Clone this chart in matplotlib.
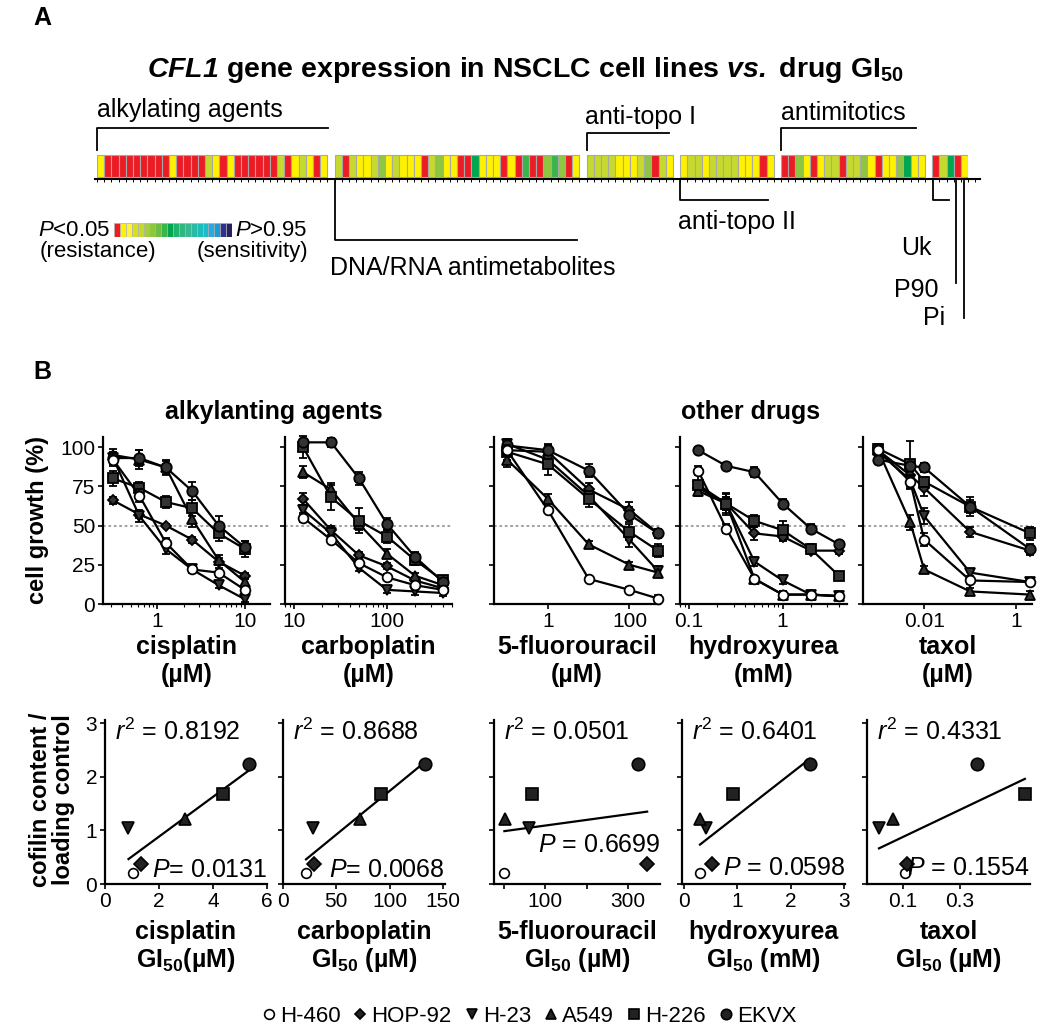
import matplotlib.pyplot as plt
import numpy as np
from matplotlib.lines import Line2D
from matplotlib.ticker import LogLocator, NullFormatter

plt.rcParams['font.family'] = ['Liberation Sans', 'DejaVu Sans']
plt.rcParams['mathtext.fontset'] = 'custom'
plt.rcParams['mathtext.rm'] = 'Liberation Sans'
plt.rcParams['mathtext.it'] = 'Liberation Sans:italic'
plt.rcParams['mathtext.bf'] = 'Liberation Sans:bold'
plt.rcParams['mathtext.bfit'] = 'Liberation Sans:bold:italic'

# ---------------- panel A data (heat strip, one letter per drug) ----------------
cell_colors = {'r': '#ED1C24', 'y': '#FFF200', 'l': '#C6DA2E', 'm': '#8DC63F',
               'g': '#39B54A', 'd': '#00A651'}
alkylating = 'yrrrrrrrrryrrrrlyryrrrrrrlrylyry'
antimetabolites = 'lrlyylmylyyyrlmyyrrdyyyryrgrrmgmry'
anti_topo1 = 'llllyyylmrly'
anti_topo2 = 'yllyllllyyyry'
antimitotics = 'rrmyryllrllmyryymdyy'
other_drugs = 'rldry'
scale_colors = ['#ED1C24', '#FFF200', '#FFF33B', '#D7DF23', '#C6DA2E', '#A6CE39',
                '#8DC63F', '#6DBE45', '#39B54A', '#00A651', '#1DB46B', '#2EB77E',
                '#37B890', '#2BBBA5', '#1FBDB8', '#1CBCCB', '#27AAE1', '#1C9AD6',
                '#2E3192', '#262262']

# ---------------- panel B data ----------------
cell_lines = ['H-460', 'HOP-92', 'H-23', 'A549', 'H-226', 'EKVX']
line_markers = ['o', 'D', 'v', '^', 's', 'o']
line_faces = ['white', '#333333', '#333333', '#333333', '#333333', '#333333']
line_sizes = [7, 5.5, 7.5, 7.5, 6.5, 7.5]

cis_dose = [0.3125, 0.625, 1.25, 2.5, 5, 10]
cis_growth = [[92, 69, 39, 22, 20, 9], [66, 57, 50, 41, 27, 18], [93, 56, 35, 22, 12, 3],
              [95, 92, 87, 54, 28, 14], [80, 74, 65, 61, 45, 35], [93, 93, 87, 72, 50, 36]]
cis_err = [[4, 4, 3, 2, 3, 2], [2, 2, 1, 2, 2, 2], [4, 4, 3, 2, 2, 2],
           [4, 6, 5, 5, 3, 3], [5, 4, 4, 5, 5, 5], [4, 5, 4, 6, 6, 4]]

carbo_dose = [12.5, 25, 50, 100, 200, 400]
carbo_growth = [[55, 41, 26, 17, 12, 9], [67, 47, 31, 24, 15, 10], [60, 45, 23, 9, 8, 7],
                [84, 73, 51, 32, 18, 12], [100, 68, 53, 43, 28, 15], [103, 103, 80, 51, 30, 14]]
carbo_err = [[3, 2, 2, 2, 2, 2], [4, 3, 2, 2, 2, 2], [3, 3, 2, 2, 2, 2],
             [4, 4, 4, 3, 2, 2], [7, 8, 8, 4, 3, 3], [2, 3, 4, 4, 3, 2]]

fu_dose = [0.1, 1, 10, 100, 500]
fu_growth = [[98, 60, 16, 9, 3.5], [98, 97, 73, 60, 45], [102, 92, 69, 41, 21],
             [92, 67, 38, 25, 20], [97, 89, 67, 46, 34], [101, 98, 85, 57, 45]]
fu_err = [[3, 2, 2, 2, 2], [4, 5, 4, 5, 3], [3, 4, 4, 5, 3],
          [5, 3, 2, 2, 2], [5, 7, 5, 5, 4], [2, 3, 4, 5, 3]]

hu_dose = [0.125, 0.25, 0.5, 1, 2, 4]
hu_growth = [[85, 48, 16, 6, 6, 5], [74, 64, 45, 43, 34, 34], [75, 64, 27, 15, 6, 5],
             [72, 64, 16, 6, 6, 5], [76, 64, 53, 47, 35, 18], [98, 88, 84, 64, 48, 38]]
hu_err = [[3, 3, 2, 2, 2, 2], [4, 6, 4, 3, 2, 2], [3, 4, 3, 2, 2, 2],
          [3, 4, 2, 2, 2, 2], [7, 7, 4, 6, 3, 2], [2, 2, 3, 3, 3, 2]]

taxol_dose = [0.001, 0.005, 0.01, 0.1, 2]
taxol_growth = [[98, 78, 41, 15, 14], [98, 82, 74, 46, 34], [97, 79, 56, 20, 14],
                [98, 52, 22, 8, 6], [99, 89, 78, 62, 45], [92, 88, 87, 62, 35]]
taxol_err = [[3, 3, 4, 2, 2], [3, 4, 5, 3, 3], [3, 6, 5, 2, 2],
             [3, 5, 2, 2, 2], [3, 15, 3, 6, 4], [3, 3, 3, 4, 3]]

cofilin = [0.2, 0.37, 1.05, 1.22, 1.67, 2.24]
gi_cis = [1.05, 1.33, 0.87, 2.96, 4.37, 5.34]
gi_carbo = [21.6, 29, 27.8, 72, 92, 133]
gi_fu = [2, 346, 62, 3, 69, 325]
gi_hu = [0.3, 0.52, 0.42, 0.3, 0.92, 2.36]
gi_taxol = [0.107, 0.114, 0.016, 0.065, 0.528, 0.36]
r2_text = ['0.8192', '0.8688', '0.0501', '0.6401', '0.4331']
p_text = ['$\\mathit{P}$= 0.0131', '$\\mathit{P}$= 0.0068', '$\\mathit{P}$ = 0.6699',
          '$\\mathit{P}$ = 0.0598', '$\\mathit{P}$ = 0.1554']

W, H = 1050, 1032
fig = plt.figure(figsize=(W / 100, H / 100), dpi=100)


def ax_px(x0, y0, x1, y1):
    return fig.add_axes([x0 / W, 1 - y1 / H, (x1 - x0) / W, (y1 - y0) / H])


def ftext(x, y, s, **kw):
    kw.setdefault('va', 'center')
    return fig.text(x / W, 1 - y / H, s, **kw)


# ================= A =================
ftext(33, 18, 'A', fontsize=18, fontweight='bold')
ftext(525, 70, r'$\mathbfit{CFL1}$ gene expression in NSCLC cell lines $\mathbfit{vs.}$ drug GI$_{\mathbf{50}}$',
      fontsize=20.5, fontweight='bold', ha='center')

slot_w = 7.2
groups = [alkylating, antimetabolites, anti_topo1, anti_topo2, antimitotics, other_drugs]
n_slots = sum(len(g) for g in groups) + len(groups) - 1
axA = ax_px(97, 100, 97 + n_slots * slot_w, 330)
axA.set_xlim(0, n_slots)
axA.set_ylim(330, 100)
axA.axis('off')

starts = []
pos = 0
for g in groups:
    starts.append(pos)
    xs = pos + np.arange(len(g))
    axA.bar(xs, 22, bottom=155, width=1, align='edge',
            color=[cell_colors[c] for c in g], edgecolor='#A8A8A8', linewidth=0.8)
    pos += len(g) + 1

axA.plot([-0.3, n_slots + 1.6], [179, 179], color='k', lw=1.5, clip_on=False)
axA.vlines(np.arange(0, n_slots + 2), 179, 182, color='k', lw=0.7, clip_on=False)


def bracket(s0, s1, y_end, y_bar):
    axA.plot([s0, s0, s1], [y_end, y_bar, y_bar], color='k', lw=1.3, clip_on=False)


fs_a = 18
bracket(starts[0], starts[0] + 32.1, 150, 128)
axA.text(starts[0], 110, 'alkylating agents', fontsize=fs_a, va='center')
bracket(starts[1], starts[1] + 33.7, 181, 240)
axA.text(starts[1] - 0.6, 268, 'DNA/RNA antimetabolites', fontsize=fs_a, va='center')
bracket(starts[2], starts[2] + 11.5, 150, 133)
axA.text(starts[2] - 0.2, 117, 'anti-topo I', fontsize=fs_a, va='center')
bracket(starts[3], starts[3] + 12.2, 181, 200)
axA.text(starts[3] - 0.3, 222, 'anti-topo II', fontsize=fs_a, va='center')
bracket(starts[4], starts[4] + 18.7, 150, 128)
axA.text(starts[4], 113, 'antimitotics', fontsize=fs_a, va='center')
bracket(starts[5] + 0.1, starts[5] + 2.3, 181, 200)
axA.text(starts[5] - 4.3, 248, 'Uk', fontsize=fs_a, va='center')
axA.plot([starts[5] + 3.3, starts[5] + 3.3], [181, 283], color='k', lw=1.3, clip_on=False)
axA.text(starts[5] - 5.3, 290, 'P90', fontsize=fs_a, va='center')
axA.plot([starts[5] + 4.4, starts[5] + 4.4], [181, 318], color='k', lw=1.3, clip_on=False)
axA.text(starts[5] - 1.3, 318, 'Pi', fontsize=fs_a, va='center')

axCB = ax_px(114, 223, 232, 237)
axCB.bar(np.arange(len(scale_colors)), 1, width=1, align='edge', color=scale_colors,
         edgecolor='#B0B0B0', linewidth=0.5)
axCB.set_xlim(0, len(scale_colors))
axCB.set_ylim(0, 1)
axCB.axis('off')
fs_cb = 16
ftext(110, 230, r'$\mathit{P}$<0.05', fontsize=fs_cb, ha='right')
ftext(235, 230, r'$\mathit{P}$>0.95', fontsize=fs_cb, ha='left')
ftext(40, 251, '(resistance)', fontsize=fs_cb)
ftext(197, 251, '(sensitivity)', fontsize=fs_cb)

# ================= B =================
ftext(33, 372, 'B', fontsize=18, fontweight='bold')
ftext(274, 412, 'alkylanting agents', fontsize=18, fontweight='bold', ha='center')
ftext(751, 412, 'other drugs', fontsize=18, fontweight='bold', ha='center')
ftext(38, 520, 'cell growth (%)', fontsize=17, fontweight='bold', ha='center', rotation=90)
ftext(52, 800, 'cofilin content /\nloading control', fontsize=17, fontweight='bold',
      ha='center', rotation=90, linespacing=1.0)

dose_panels = [
    (cis_dose, cis_growth, cis_err, (103, 270), (0.24, 19.3), [1, 10], ['1', '10'], 'cisplatin', '(µM)'),
    (carbo_dose, carbo_growth, carbo_err, (285, 452), (8.0, 500), [10, 100], ['10', '100'], 'carboplatin', '(µM)'),
    (fu_dose, fu_growth, fu_err, (494, 660), (0.048, 560), [1, 100], ['1', '100'], '5-fluorouracil', '(µM)'),
    (hu_dose, hu_growth, hu_err, (680, 847), (0.08, 4.87), [0.1, 1], ['0.1', '1'], 'hydroxyurea', '(mM)'),
    (taxol_dose, taxol_growth, taxol_err, (863, 1032), (0.00047, 2.2), [0.01, 1], ['0.01', '1'], 'taxol', '(µM)'),
]

for i, (dose, growth, err, (x0, x1), xlim, ticks, tlabels, name, unit) in enumerate(dose_panels):
    ax = ax_px(x0, 437, x1, 604)
    ax.set_xscale('log')
    ax.set_xlim(*xlim)
    ax.set_ylim(0, 106.4)
    ax.axhline(50, color='#9A9A9A', ls=(0, (1.5, 1.5)), lw=1.3, zorder=0)
    for j in range(len(cell_lines)):
        ax.errorbar(dose, growth[j], yerr=err[j], color='k', lw=1.6, elinewidth=1.3,
                    capsize=3, capthick=1.3, marker=line_markers[j], ms=line_sizes[j],
                    mfc=line_faces[j], mec='k', mew=1.3, clip_on=False,
                    zorder=3 + (j == 0))
    for s in ['top', 'right']:
        ax.spines[s].set_visible(False)
    for s in ['left', 'bottom']:
        ax.spines[s].set_linewidth(1.6)
    ax.set_xticks(ticks)
    ax.set_xticklabels(tlabels)
    ax.xaxis.set_minor_locator(LogLocator(base=10, subs=np.arange(2, 10)))
    ax.xaxis.set_minor_formatter(NullFormatter())
    ax.set_yticks([0, 25, 50, 75, 100])
    ax.tick_params(axis='both', which='major', direction='out', length=3.5, width=1.2,
                   labelsize=15, pad=2)
    ax.tick_params(axis='x', which='minor', direction='out', length=2, width=0.8)
    if i > 0:
        ax.set_yticklabels([])
    cx = (x0 + x1) / 2
    ftext(cx, 647, name, fontsize=18, fontweight='bold', ha='center')
    ftext(cx, 675, unit, fontsize=18, fontweight='bold', ha='center')

scatter_panels = [
    (gi_cis, (105, 267), (0, 6.0), [0, 2, 4, 6], ['0', '2', '4', '6'], 'cisplatin', r'GI$_{\mathbf{50}}$(µM)', 870),
    (gi_carbo, (283, 445), (0, 152), [0, 50, 100, 150], ['0', '50', '100', '150'], 'carboplatin', r'GI$_{\mathbf{50}}$ (µM)', 870),
    (gi_fu, (494, 660), (-23, 377), [0, 100, 200, 300], ['', '100', '', '300'], '5-fluorouracil', r'GI$_{\mathbf{50}}$ (µM)', 845),
    (gi_hu, (682, 845), (-0.0375, 3.02), [0, 1, 2, 3], ['0', '1', '2', '3'], 'hydroxyurea', r'GI$_{\mathbf{50}}$ (mM)', 868),
    (gi_taxol, (867, 1030), (-0.026, 0.546), [0.1, 0.3], ['0.1', '0.3'], 'taxol', r'GI$_{\mathbf{50}}$ (µM)', 868),
]

for i, (gi, (x0, x1), xlim, ticks, tlabels, name, unit, py) in enumerate(scatter_panels):
    ax = ax_px(x0, 720, x1, 884)
    ax.set_xlim(*xlim)
    ax.set_ylim(0, 3.056)
    slope, icpt = np.polyfit(gi, cofilin, 1)
    xf = np.array([min(gi), max(gi)])
    ax.plot(xf, slope * xf + icpt, color='k', lw=1.6, zorder=2)
    for j in range(len(cell_lines)):
        ms = line_sizes[j] + 1.5 if j > 0 else 7
        ax.plot(gi[j], cofilin[j], ls='none', marker=line_markers[j], ms=ms,
                mfc=line_faces[j] if j == 0 else '#222222', mec='k', mew=1.2,
                clip_on=False, zorder=3)
    for s in ['top', 'right']:
        ax.spines[s].set_visible(False)
    for s in ['left', 'bottom']:
        ax.spines[s].set_linewidth(1.6)
    ax.set_xticks(ticks)
    ax.set_xticklabels(tlabels)
    ax.set_yticks([0, 1, 2, 3])
    ax.tick_params(axis='both', direction='out', length=3.5, width=1.2, labelsize=15, pad=2)
    if i > 0:
        ax.set_yticklabels([])
    ax.text(10 / (x1 - x0), (884 - 732) / 164, r'$\mathit{r}^{2}$' + ' = ' + r2_text[i],
            transform=ax.transAxes, fontsize=18, va='center', ha='left')
    ax.text(1.0, (884 - py) / 164, p_text[i], transform=ax.transAxes, fontsize=18,
            va='center', ha='right')
    cx = (x0 + x1) / 2
    ftext(cx, 932, name, fontsize=18, fontweight='bold', ha='center')
    ftext(cx, 960, unit, fontsize=18, fontweight='bold', ha='center')

handles = [Line2D([], [], ls='none', marker=line_markers[j], ms=line_sizes[j],
                  mfc=line_faces[j] if j == 0 else '#222222', mec='k', mew=1.2)
           for j in range(len(cell_lines))]
fig.legend(handles, cell_lines, loc='center', bbox_to_anchor=(527 / W, 1 - 1016 / H),
           ncol=6, frameon=False, handletextpad=0.0, columnspacing=0.4,
           handlelength=1.0, fontsize=16)

fig.savefig('out.png', dpi=100)
